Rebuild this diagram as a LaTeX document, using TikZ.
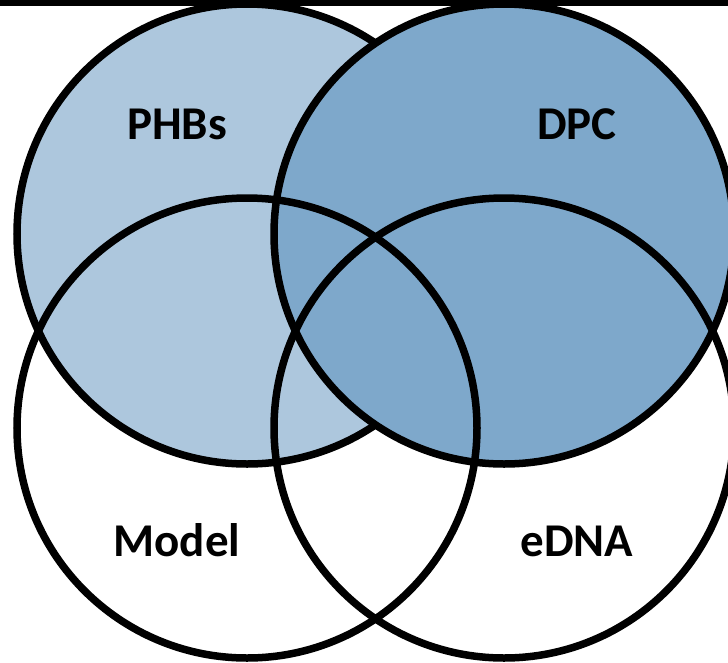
\documentclass[tikz,border=0pt]{standalone}
\usepackage{fontspec}
\setmainfont{Carlito}
\definecolor{lightblue}{RGB}{173,199,221}
\definecolor{darkblue}{RGB}{126,168,203}
\tikzset{
  venn/.style={circle, draw=black, line width=7.5pt, minimum size=460pt, inner sep=0pt},
  lbl/.style={anchor=base, font=\fontsize{47}{50}\selectfont\bfseries, text=black}
}
\begin{document}
\begin{tikzpicture}[x=1pt,y=-1pt]
\useasboundingbox (0,0) rectangle (728,662);
\clip (0,0) rectangle (728,662);
\node[venn, fill=lightblue] (phbs) at (247,234) {};
\node[venn, fill=darkblue] (dpc) at (504,234) {};
\node[venn] (model) at (247,428) {};
\node[venn] (edna) at (504,428) {};
\fill[black] (0,0) rectangle (728,6);
\node[lbl] (tphbs) at (177,139) {PHBs};
\node[lbl] (tdpc) at (577,139) {DPC};
\node[lbl] (tmodel) at (177,556) {Model};
\node[lbl] (tedna) at (577,556) {eDNA};
\end{tikzpicture}
\end{document}
